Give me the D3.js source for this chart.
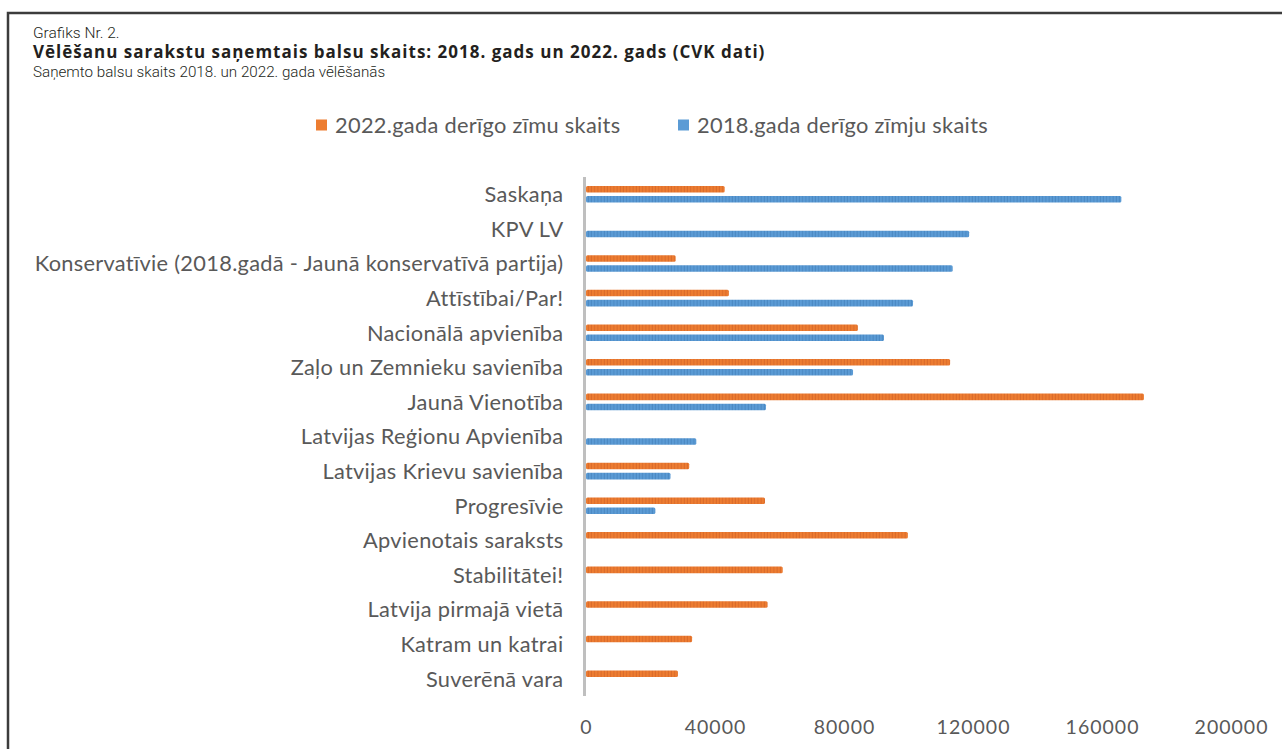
<!DOCTYPE html>
<html>
<head>
<meta charset="utf-8">
<script src="https://cdn.jsdelivr.net/npm/d3@7"></script>
<style>
  html, body { margin: 0; padding: 0; background: #fff; overflow: hidden; }
</style>
</head>
<body>
<div id="graph"></div>
<script>
// Data ///////////////////////////////////////////////////////////////////////
const parties = [
  "Saskaņa",
  "KPV LV",
  "Konservatīvie (2018.gadā - Jaunā konservatīvā partija)",
  "Attīstībai/Par!",
  "Nacionālā apvienība",
  "Zaļo un Zemnieku savienība",
  "Jaunā Vienotība",
  "Latvijas Reģionu Apvienība",
  "Latvijas Krievu savienība",
  "Progresīvie",
  "Apvienotais saraksts",
  "Stabilitātei!",
  "Latvija pirmajā vietā",
  "Katram un katrai",
  "Suverēnā vara"
];
const votes2022 = [43000, null, 27800, 44300, 84300, 112900, 173000, null, 32000, 55500, 99800, 61000, 56300, 32900, 28500];
const votes2018 = [166000, 118800, 113700, 101400, 92400, 82800, 55800, 34200, 26200, 21500, null, null, null, null, null];
const seriesNames = ["2022.gada derīgo zīmu skaits", "2018.gada derīgo zīmju skaits"];
const xTicks = [0, 40000, 80000, 120000, 160000, 200000];

// Constants //////////////////////////////////////////////////////////////////
const width = 1282;
const height = 749;
const colors = ["#ED7D31", "#5B9BD5"];
const stripeColors = ["#d9692a", "#4a88c2"];
const labelFont = "Lato, 'Open Sans', sans-serif";
const textGrey = "#595959";

const svg = d3.select("#graph")
  .append("svg")
  .attr("width", width)
  .attr("height", height)
  .style("font-family", labelFont);

// Striped fill, like the scanned bars
const defs = svg.append("defs");
colors.forEach((c, i) => {
  const p = defs.append("pattern")
    .attr("id", `stripe${i}`)
    .attr("patternUnits", "userSpaceOnUse")
    .attr("width", 3.2)
    .attr("height", 10);
  p.append("rect").attr("width", 3.2).attr("height", 10).attr("fill", c);
  p.append("rect").attr("x", 2.2).attr("width", 1).attr("height", 10).attr("fill", stripeColors[i]);
});

// Frame //////////////////////////////////////////////////////////////////////
svg.append("path")
  .attr("d", `M8,${height + 5} L8,13 L${width + 5},13`)
  .attr("fill", "none")
  .attr("stroke", "#3c3c3c")
  .attr("stroke-width", 2.5);

// Header texts
const header = svg.append("g").attr("fill", "#231f20");
header.append("text")
  .attr("x", 33).attr("y", 38)
  .style("font-family", "Roboto, sans-serif")
  .style("font-size", "15.5px")
  .style("font-weight", 300)
  .text("Grafiks Nr. 2.");
header.append("text")
  .attr("x", 33).attr("y", 58)
  .style("font-family", "'Open Sans', sans-serif")
  .style("font-size", "17px")
  .style("font-weight", 700)
  .style("letter-spacing", "1px")
  .text("Vēlēšanu sarakstu saņemtais balsu skaits: 2018. gads un 2022. gads (CVK dati)");
header.append("text")
  .attr("x", 33).attr("y", 77)
  .style("font-family", "Roboto, sans-serif")
  .style("font-size", "15.2px")
  .style("font-weight", 300)
  .text("Saņemto balsu skaits 2018. un 2022. gada vēlēšanās");

// Scales /////////////////////////////////////////////////////////////////////
const x = d3.scaleLinear().domain([0, 200000]).range([586, 1231]);

const y0 = d3.scaleBand()
  .domain(parties)
  .range([177, 696])
  .paddingInner(0.52)
  .paddingOuter(0.26);

const y1 = d3.scaleBand()
  .domain([0, 1])
  .range([0, y0.bandwidth()])
  .paddingInner(0.35);

const rows = parties.map((name, i) => ({
  name,
  values: [votes2022[i], votes2018[i]]
}));

// Bars ///////////////////////////////////////////////////////////////////////
const rowGroup = svg.selectAll(".row")
  .data(rows)
  .join("g")
  .attr("class", "row")
  .attr("transform", d => `translate(0, ${y0(d.name)})`);

rowGroup.selectAll("rect")
  .data(d => d.values.map((v, s) => ({ v, s })).filter(e => e.v !== null))
  .join("rect")
  .attr("x", x(0))
  .attr("y", d => y1(d.s))
  .attr("width", d => x(d.v) - x(0))
  .attr("height", y1.bandwidth())
  .attr("rx", 1.5)
  .attr("fill", d => `url(#stripe${d.s})`);

// Category axis
const yAxis = svg.append("g")
  .attr("transform", `translate(${x(0) - 1.5}, 0)`)
  .call(d3.axisLeft(y0).tickSize(0).tickPadding(21));
yAxis.select(".domain")
  .attr("d", `M0,${y0.range()[0]}V${y0.range()[1]}`)
  .attr("stroke", "#bfbfbf")
  .attr("stroke-width", 3);
yAxis.selectAll("text")
  .attr("fill", textGrey)
  .attr("dy", "0.36em")
  .style("font-family", labelFont)
  .style("font-size", "21.8px")
  .style("letter-spacing", "0.3px");

// Value axis (labels only)
const xAxis = svg.append("g")
  .attr("transform", `translate(0, 714)`)
  .call(d3.axisBottom(x).tickValues(xTicks).tickFormat(d3.format("d")).tickSize(0).tickPadding(6));
xAxis.select(".domain").remove();
xAxis.selectAll("text")
  .attr("fill", textGrey)
  .style("font-family", labelFont)
  .style("font-size", "19.5px")
  .style("letter-spacing", "1px");

// Legend /////////////////////////////////////////////////////////////////////
const legendX = [316, 678];
const legend = svg.selectAll(".legendItem")
  .data(seriesNames)
  .join("g")
  .attr("class", "legendItem")
  .attr("transform", (d, i) => `translate(${legendX[i]}, 125)`);

legend.append("rect")
  .attr("x", 0).attr("y", -5.5)
  .attr("width", 11).attr("height", 11)
  .attr("fill", (d, i) => colors[i]);

legend.append("text")
  .attr("x", 19)
  .attr("dy", "0.36em")
  .attr("fill", textGrey)
  .style("font-size", "21.8px")
  .style("letter-spacing", "0.3px")
  .text(d => d);
</script>
</body>
</html>
